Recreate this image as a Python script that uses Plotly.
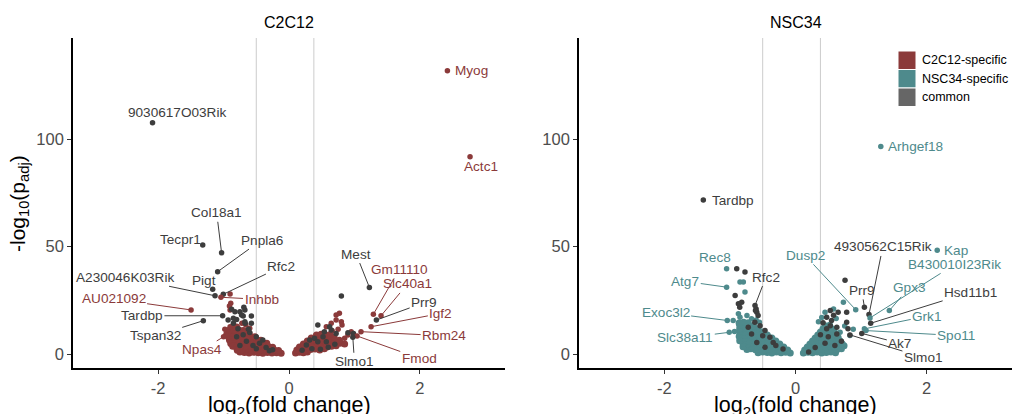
import plotly.graph_objects as go

# ---------------- DATA ----------------
# C2C12 panel: C2C12-specific points in the dense wedges
c2_spec_body_fc = [
    -0.12, -0.19, -0.26, -0.33, -0.40, -0.47, -0.54, -0.61, -0.68, -0.75,
    -0.16, -0.23, -0.30, -0.37, -0.44, -0.51, -0.58, -0.65, -0.72, -0.79,
    -0.25, -0.32, -0.39, -0.46, -0.53, -0.60, -0.67, -0.74, -0.81, -0.86,
    -0.34, -0.41, -0.48, -0.55, -0.62, -0.69, -0.76, -0.83, -0.89,
    -0.43, -0.50, -0.57, -0.64, -0.71, -0.78, -0.85, -0.91,
    -0.52, -0.59, -0.66, -0.73, -0.80, -0.87, -0.93,
    -0.61, -0.68, -0.75, -0.82, -0.89, -0.95,
    -0.70, -0.77, -0.84, -0.91,
    -0.80, -0.87,
    0.10, 0.16, 0.22, 0.28,
    0.12, 0.19, 0.26, 0.33, 0.40, 0.47, 0.54,
    0.16, 0.23, 0.30, 0.37, 0.44, 0.51, 0.58, 0.65, 0.72,
    0.22, 0.29, 0.36, 0.43, 0.50, 0.57, 0.64, 0.71, 0.78, 0.85,
    0.28, 0.35, 0.42, 0.49, 0.56, 0.63, 0.70, 0.77,
    0.34, 0.41, 0.48, 0.55, 0.62, 0.69,
    0.42, 0.49, 0.56, 0.63,
]
c2_spec_body_p = [
    0.4, 0.6, 0.5, 0.7, 0.4, 0.6, 0.8, 0.5, 0.7, 0.9,
    1.6, 2.0, 1.8, 2.2, 1.9, 2.1, 1.7, 2.3, 2.0, 1.8,
    3.2, 3.6, 3.4, 3.8, 3.3, 3.7, 3.5, 3.9, 3.4, 3.6,
    5.0, 4.8, 5.3, 5.1, 4.9, 5.4, 5.0, 5.2, 4.9,
    6.4, 6.7, 6.5, 6.8, 6.3, 6.6, 6.9, 6.5,
    8.0, 8.2, 7.9, 8.3, 8.1, 7.8, 8.2,
    9.5, 9.7, 9.4, 9.8, 9.6, 9.3,
    11.0, 11.3, 10.9, 11.2,
    12.6, 12.3,
    0.5, 0.8, 0.6, 0.9,
    1.9, 2.2, 1.8, 2.1, 2.3, 1.9, 2.4,
    3.3, 3.6, 3.2, 3.5, 3.4, 3.7, 3.3, 3.6, 3.8,
    4.7, 5.0, 4.8, 5.1, 4.6, 4.9, 5.2, 4.8, 5.0, 4.7,
    6.1, 6.4, 6.2, 6.5, 6.0, 6.3, 6.1, 6.4,
    7.5, 7.8, 7.6, 7.9, 7.4, 7.7,
    8.9, 9.2, 8.8, 9.1,
]
# C2C12 panel: C2C12-specific scattered (unlabelled) points
c2_spec_fc = [-0.89, -0.90, -0.91, -0.90, -0.72, -0.90, -0.98, -0.66, -0.60,
              0.77, 0.72, 0.80, 0.72, 0.645, 0.57, 0.81, 0.90, 0.85, 0.95, 0.75, 0.66]
c2_spec_p = [23.6, 27.9, 22.3, 20.5, 14.3, 12.7, 11.5, 13.5, 12.0,
             19.0, 18.1, 15.0, 15.8, 14.3, 12.7, 13.5, 8.8, 7.3, 10.4, 11.5, 10.8]
# C2C12 panel: common (unlabelled) points
c2_common_fc = [
    -0.877, -0.826, -0.75, -0.674, -0.70, -0.575, -0.93, -0.80, -0.85, -0.67,
    -0.575, -0.69, -0.725, -0.674, -0.85, -0.60, -0.50, -0.70, -0.45, -0.35,
    -0.65, -0.80, -0.55, -0.30, -0.75, -0.40, -0.62, -0.78, -0.50, -0.25,
    0.80, 0.44, 0.54, 0.645, 0.52, 0.39, 0.315, 0.44, 0.265, 0.57,
    0.72, 0.90, 0.985, 0.62, 0.35, 0.60, 0.20, 0.48, 0.70,
]
c2_common_p = [
    20.8, 19.7, 19.7, 20.5, 17.7, 17.7, 15.8, 16.1, 14.3, 14.3,
    14.3, 21.7, 18.1, 15.0, 16.6, 10.0, 8.0, 9.0, 5.0, 3.0,
    6.0, 8.0, 4.0, 1.5, 4.0, 6.5, 11.5, 11.8, 2.5, 2.0,
    27.0, 13.5, 10.4, 11.2, 8.0, 7.3, 6.5, 5.7, 4.2, 5.7,
    9.6, 9.9, 9.6, 12.7, 2.5, 3.2, 1.8, 2.2, 4.5,
]
# C2C12 panel: labelled genes
c2_genes = ["9030617O03Rik", "Myog", "Actc1", "Col18a1", "Tecpr1", "Pnpla6", "Rfc2",
            "Pigt", "A230046K03Rik", "AU021092", "Inhbb", "Tardbp", "Tspan32", "Npas4",
            "Mest", "Gm11110", "Slc40a1", "Prr9", "Igf2", "Rbm24", "Fmod", "Slmo1"]
c2_gene_fc = [-2.085, 2.42, 2.766, -1.03, -1.318, -1.09, -1.004,
              -1.166, -1.13, -1.496, -1.04, -1.014, -1.309, -1.0,
              1.228, 1.289, 1.406, 1.335, 1.254, 1.10, 1.04, 0.975]
c2_gene_p = [107.6, 131.8, 91.8, 47.1, 50.7, 38.3, 27.8,
             30.1, 27.1, 20.5, 26.4, 17.8, 15.5, 8.0,
             31.0, 18.5, 17.8, 15.8, 12.7, 10.4, 8.4, 7.8]
c2_gene_group = ["common", "specific", "specific", "common", "common", "common", "common",
                 "common", "common", "specific", "specific", "common", "common", "specific",
                 "common", "specific", "specific", "common", "specific", "specific", "specific", "common"]

# NSC34 panel: NSC34-specific points in the dense wedges
n3_spec_body_fc = [
    -0.08, -0.15, -0.22, -0.29, -0.36, -0.43, -0.50, -0.57,
    -0.12, -0.19, -0.26, -0.33, -0.40, -0.47, -0.54, -0.61, -0.68, -0.74,
    -0.18, -0.25, -0.32, -0.39, -0.46, -0.53, -0.60, -0.67, -0.74, -0.80,
    -0.24, -0.31, -0.38, -0.45, -0.52, -0.59, -0.66, -0.73, -0.80,
    -0.30, -0.37, -0.44, -0.51, -0.58, -0.65, -0.72, -0.79, -0.85,
    -0.36, -0.43, -0.50, -0.57, -0.64, -0.71, -0.78, -0.85,
    -0.43, -0.50, -0.57, -0.64, -0.71, -0.78, -0.85,
    -0.50, -0.57, -0.64, -0.71, -0.78, -0.85,
    -0.57, -0.64, -0.71, -0.78, -0.85,
    -0.64, -0.71, -0.78, -0.85,
    -0.72, -0.79, -0.86,
    0.12, 0.19, 0.26, 0.33, 0.40, 0.47, 0.54, 0.61,
    0.14, 0.21, 0.28, 0.35, 0.42, 0.49, 0.56, 0.63, 0.70,
    0.18, 0.25, 0.32, 0.39, 0.46, 0.53, 0.60, 0.67, 0.74,
    0.22, 0.29, 0.36, 0.43, 0.50, 0.57, 0.64, 0.71,
    0.26, 0.33, 0.40, 0.47, 0.54, 0.61, 0.68,
    0.30, 0.37, 0.44, 0.51, 0.58, 0.65,
    0.34, 0.41, 0.48, 0.55, 0.62,
    0.38, 0.45, 0.52, 0.59,
    0.42, 0.49, 0.56,
    0.45, 0.52,
]
n3_spec_body_p = [
    0.5, 0.8, 0.6, 0.9, 0.5, 0.7, 0.9, 0.6,
    1.9, 2.2, 1.8, 2.1, 2.3, 1.9, 2.2, 2.0, 2.4, 2.1,
    3.3, 3.6, 3.2, 3.5, 3.4, 3.7, 3.3, 3.6, 3.8, 3.4,
    4.7, 5.0, 4.8, 5.1, 4.6, 4.9, 5.2, 4.8, 5.0,
    6.1, 6.4, 6.2, 6.5, 6.0, 6.3, 6.1, 6.4, 6.2,
    7.5, 7.8, 7.6, 7.9, 7.4, 7.7, 7.5, 7.8,
    8.9, 9.2, 8.8, 9.1, 9.0, 8.8, 9.2,
    10.3, 10.6, 10.2, 10.5, 10.4, 10.7,
    11.7, 12.0, 11.6, 11.9, 11.8,
    13.1, 13.4, 13.0, 13.3,
    14.5, 14.8, 14.4,
    0.5, 0.8, 0.6, 0.9, 0.5, 0.7, 0.9, 0.6,
    1.9, 2.2, 1.8, 2.1, 2.3, 1.9, 2.2, 2.0, 2.4,
    3.3, 3.6, 3.2, 3.5, 3.4, 3.7, 3.3, 3.6, 3.8,
    4.7, 5.0, 4.8, 5.1, 4.6, 4.9, 5.2, 4.8,
    6.1, 6.4, 6.2, 6.5, 6.0, 6.3, 6.1,
    7.5, 7.8, 7.6, 7.9, 7.4, 7.7,
    8.9, 9.2, 8.8, 9.1, 9.0,
    10.3, 10.6, 10.2, 10.5,
    11.7, 12.0, 11.6,
    13.1, 13.4,
]
# NSC34 panel: NSC34-specific scattered (unlabelled) points
n3_spec_fc = [-0.846, -0.795, -0.77, -0.87, -0.95, -0.87, -0.846, -0.74, -0.67, -0.60, -0.55, -0.93,
              0.73, 0.45, 0.58, 0.68, 0.83, 0.35, 0.62, 0.40, 0.75, 0.88]
n3_spec_p = [33.5, 33.5, 28.8, 18.7, 15.6, 8.1, 17.1, 17.9, 16.4, 15.8, 14.8, 10.5,
             24.1, 19.4, 21.0, 10.1, 8.6, 15.0, 16.5, 17.0, 13.0, 11.5]
# NSC34 panel: common (unlabelled) points
n3_common_fc = [
    -0.896, -0.77, -0.92, -0.87, -0.82, -0.85, -0.59, -0.57, -0.62, -0.72,
    -0.54, -0.465, -0.67, -0.39, -0.59, -0.465, -0.19, -0.34, -0.60, -0.61,
    -0.50, -0.30,
    0.755, 0.65, 0.78, 0.475, 0.55, 0.53, 0.475, 0.63, 0.78, 0.80,
    0.63, 0.30, 0.45, 0.60, 0.20, 0.50, 0.38, 0.70, 0.42, 0.58, 0.53,
]
n3_common_p = [
    39.7, 38.1, 27.2, 23.4, 24.1, 21.8, 19.4, 17.9, 14.8, 12.4,
    13.2, 10.9, 9.3, 7.8, 5.4, 3.1, 2.3, 5.4, 21.0, 20.2,
    8.5, 4.0,
    34.3, 19.4, 19.4, 17.1, 15.6, 13.2, 11.7, 12.4, 14.8, 11.7,
    9.3, 3.0, 5.0, 4.0, 1.0, 8.0, 9.0, 6.0, 14.5, 18.0, 20.2,
]
# NSC34 panel: labelled genes
n3_genes = ["Tardbp", "Arhgef18", "Kap", "Rec8", "Atg7", "Rfc2", "Exoc3l2", "Slc38a11",
            "Dusp2", "4930562C15Rik", "B430010I23Rik", "Prr9", "Gpx3", "Hsd11b1",
            "Grk1", "Spo11", "Ak7", "Slmo1"]
n3_gene_fc = [-1.405, 1.30, 2.16, -1.05, -1.05, -0.617, -1.04, -1.01,
              0.918, 1.12, 1.136, 1.05, 1.43, 1.146,
              1.05, 1.075, 1.01, 0.83]
n3_gene_p = [71.6, 96.5, 48.3, 39.7, 31.1, 22.6, 15.6, 10.1,
             20.6, 18.4, 16.8, 21.8, 20.2, 14.3,
             11.7, 10.9, 9.6, 8.9]
n3_gene_group = ["common", "specific", "specific", "specific", "specific", "common", "specific", "specific",
                 "specific", "common", "specific", "common", "specific", "common",
                 "specific", "specific", "common", "common"]

fc_cutoffs = [-0.5, 0.38]
x_ticks = [-2, 0, 2]
x_tick_labels = ["-2", "0", "2"]
y_ticks = [0, 50, 100]
y_tick_labels = ["0", "50", "100"]
panel_titles = ["C2C12", "NSC34"]
legend_labels = ["C2C12-specific", "NSC34-specific", "common"]

# ---------------- LABEL PLACEMENT (layout) ----------------
# gene -> (label x, label y, draw segment, xanchor)
c2_label_pos = {
    "9030617O03Rik": (-1.71, 112.4, False, "center"),
    "Myog": (2.51, 131.8, False, "left"),
    "Actc1": (2.93, 87.1, False, "center"),
    "Col18a1": (-1.105, 65.7, True, "center"),
    "Tecpr1": (-1.653, 53.3, False, "center"),
    "Pnpla6": (-0.42, 53.0, True, "center"),
    "Rfc2": (-0.116, 40.6, True, "center"),
    "Pigt": (-1.30, 34.0, False, "center"),
    "A230046K03Rik": (-2.50, 35.7, True, "center"),
    "AU021092": (-2.68, 25.6, True, "center"),
    "Inhbb": (-0.42, 25.4, True, "center"),
    "Tardbp": (-2.247, 17.8, True, "center"),
    "Tspan32": (-2.044, 8.4, True, "center"),
    "Npas4": (-1.333, 1.9, True, "center"),
    "Mest": (1.026, 46.5, True, "center"),
    "Gm11110": (1.685, 39.4, True, "center"),
    "Slc40a1": (1.81, 32.6, True, "center"),
    "Prr9": (2.065, 23.9, True, "center"),
    "Igf2": (2.32, 18.9, True, "center"),
    "Rbm24": (2.37, 8.5, True, "center"),
    "Fmod": (1.99, -2.0, True, "center"),
    "Slmo1": (1.0, -3.6, True, "center"),
}
n3_label_pos = {
    "Tardbp": (-1.31, 71.6, False, "left"),
    "Arhgef18": (1.38, 96.5, False, "left"),
    "Kap": (2.23, 48.3, False, "left"),
    "Rec8": (-1.227, 44.9, False, "center"),
    "Atg7": (-1.68, 33.8, True, "center"),
    "Rfc2": (-0.45, 35.8, True, "center"),
    "Exoc3l2": (-1.98, 19.2, True, "center"),
    "Slc38a11": (-1.68, 7.5, True, "center"),
    "Dusp2": (0.145, 45.9, True, "center"),
    "4930562C15Rik": (1.33, 49.8, True, "center"),
    "B430010I23Rik": (2.43, 41.7, True, "center"),
    "Prr9": (1.01, 29.6, True, "center"),
    "Gpx3": (1.73, 30.8, True, "center"),
    "Hsd11b1": (2.67, 28.8, True, "center"),
    "Grk1": (2.0, 17.6, True, "center"),
    "Spo11": (2.45, 8.6, True, "center"),
    "Ak7": (1.59, 5.0, True, "center"),
    "Slmo1": (1.95, -1.6, True, "center"),
}

# ---------------- STYLE ----------------
FONT = "Liberation Sans, Arial, Helvetica, sans-serif"
RED = "#8B3A3A"
TEAL = "#4E8A8C"
DARK = "#3D3D3D"
LEG_DARK = "#666666"
W, H = 1016, 414
MS = 5.5
MS_BODY = 7
LAB_SIZE = 13.6

fig = go.Figure()


def add_pts(xs, ys, color, xa, ya, size):
    fig.add_trace(go.Scatter(x=xs, y=ys, mode="markers",
                             marker=dict(color=color, size=size, line=dict(width=0)),
                             xaxis=xa, yaxis=ya, showlegend=False, hoverinfo="skip"))


annotations = []


def panel(body_fc, body_p, spec_fc, spec_p, com_fc, com_p, genes, gfc, gp, ggrp,
          spec_color, lab_pos, xa, ya):
    add_pts(body_fc, body_p, spec_color, xa, ya, MS_BODY)
    add_pts(spec_fc, spec_p, spec_color, xa, ya, MS)
    add_pts(com_fc, com_p, DARK, xa, ya, MS)
    cols = [spec_color if g == "specific" else DARK for g in ggrp]
    fig.add_trace(go.Scatter(x=gfc, y=gp, mode="markers",
                             marker=dict(color=cols, size=MS, line=dict(width=0)),
                             xaxis=xa, yaxis=ya, showlegend=False, hoverinfo="skip"))
    for name, x, y, c in zip(genes, gfc, gp, cols):
        tx, ty, seg, anc = lab_pos[name]
        if seg:
            annotations.append(dict(x=x, y=y, xref=xa, yref=ya, ax=tx, ay=ty, axref=xa, ayref=ya,
                                    text=name, showarrow=True, arrowhead=0, arrowwidth=1,
                                    arrowcolor=c, standoff=0, startstandoff=0,
                                    font=dict(family=FONT, size=LAB_SIZE, color=c)))
        else:
            annotations.append(dict(x=tx, y=ty, xref=xa, yref=ya, text=name, showarrow=False,
                                    xanchor=anc, yanchor="middle",
                                    font=dict(family=FONT, size=LAB_SIZE, color=c)))


panel(c2_spec_body_fc, c2_spec_body_p, c2_spec_fc, c2_spec_p, c2_common_fc, c2_common_p,
      c2_genes, c2_gene_fc, c2_gene_p, c2_gene_group, RED, c2_label_pos, "x", "y")
panel(n3_spec_body_fc, n3_spec_body_p, n3_spec_fc, n3_spec_p, n3_common_fc, n3_common_p,
      n3_genes, n3_gene_fc, n3_gene_p, n3_gene_group, TEAL, n3_label_pos, "x2", "y2")

shapes = []
for xr, yr in (("x", "y"), ("x2", "y2")):
    for c in fc_cutoffs:
        shapes.append(dict(type="line", xref=xr, yref=yr + " domain", x0=c, x1=c, y0=0, y1=1,
                           line=dict(color="#CCCCCC", width=1), layer="below"))

# legend (drawn manually as keys + text)
leg_cols = [RED, TEAL, LEG_DARK]
leg_top = 51
leg_h = 18.5
for i, (lab, col) in enumerate(zip(legend_labels, leg_cols)):
    y0 = leg_top + i * leg_h
    shapes.append(dict(type="rect", xref="paper", yref="paper",
                       x0=898 / W, x1=916 / W, y0=(H - y0 - leg_h) / H, y1=(H - y0) / H,
                       fillcolor=col, line=dict(color="white", width=1)))
    annotations.append(dict(x=920 / W, y=(H - y0 - leg_h / 2) / H, xref="paper", yref="paper",
                            text=lab, showarrow=False, xanchor="left", yanchor="middle",
                            font=dict(family=FONT, size=12.5, color="black")))

# titles and axis titles
x_dom = [[73 / W, 505 / W], [579 / W, 1012 / W]]
y_dom = [(H - 368) / H, (H - 38) / H]
for t, d in zip(panel_titles, x_dom):
    cx = (d[0] + d[1]) / 2
    annotations.append(dict(x=cx, y=(H - 22) / H, xref="paper", yref="paper", text=t,
                            showarrow=False, xanchor="center", yanchor="middle",
                            font=dict(family=FONT, size=16, color="black")))
    annotations.append(dict(x=cx, y=(H - 406) / H, xref="paper", yref="paper",
                            text="log<sub>2</sub>(fold change)", showarrow=False,
                            xanchor="center", yanchor="middle",
                            font=dict(family=FONT, size=21.5, color="black")))
annotations.append(dict(x=19 / W, y=(H - 204) / H, xref="paper", yref="paper",
                        text="-log<sub>10</sub>(p<sub>adj</sub>)", showarrow=False, textangle=-90,
                        xanchor="center", yanchor="middle",
                        font=dict(family=FONT, size=21, color="black")))

axis_common = dict(showline=True, linecolor="black", linewidth=1.6, ticks="outside", ticklen=4,
                   tickwidth=1.2, tickcolor="#333333", showgrid=False, zeroline=False,
                   automargin=False,
                   tickfont=dict(family=FONT, size=16.5, color="#4D4D4D"), fixedrange=True)

fig.update_layout(
    width=W, height=H, margin=dict(l=0, r=0, t=0, b=0, autoexpand=False),
    paper_bgcolor="white", plot_bgcolor="white", showlegend=False,
    xaxis=dict(domain=x_dom[0], range=[-3.3, 3.3], tickvals=x_ticks, ticktext=x_tick_labels,
               anchor="y", **axis_common),
    yaxis=dict(domain=y_dom, range=[-6.5, 147], tickvals=y_ticks, ticktext=y_tick_labels,
               anchor="x", **axis_common),
    xaxis2=dict(domain=x_dom[1], range=[-3.3, 3.3], tickvals=x_ticks, ticktext=x_tick_labels,
                anchor="y2", **axis_common),
    yaxis2=dict(domain=y_dom, range=[-6.5, 147], tickvals=y_ticks, ticktext=y_tick_labels,
                anchor="x2", **axis_common),
    shapes=shapes, annotations=annotations,
)

fig.write_html("out.html", config={"displayModeBar": False},
               post_script="document.body.style.margin='0';document.body.style.overflow='hidden';")
